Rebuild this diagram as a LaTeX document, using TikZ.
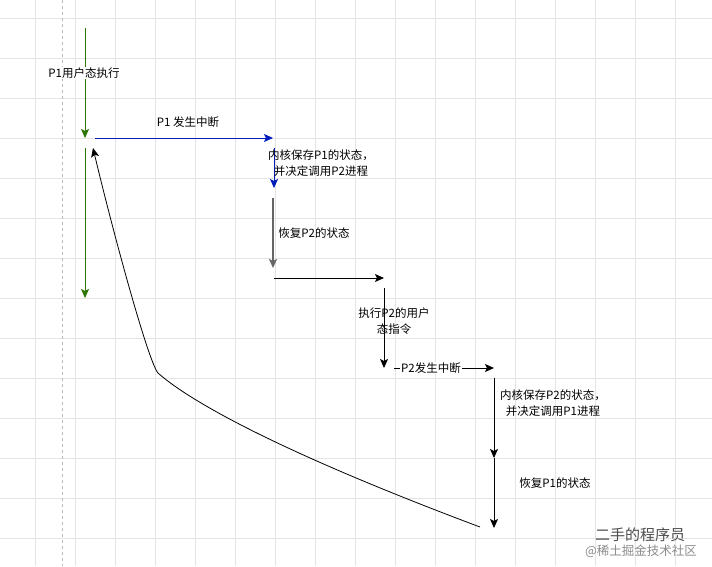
\documentclass[tikz,border=0pt]{standalone}
\usepackage{fontspec}
\newfontfamily\cjk{Noto Sans CJK SC}
\usepackage{tikz}
\usetikzlibrary{positioning,arrows.meta}
\definecolor{ugreen}{HTML}{2D7600}
\definecolor{kblue}{HTML}{001DBC}
\definecolor{gridline}{HTML}{E4E4E4}
\tikzset{flow/.style={-{Stealth[length=9pt,width=8pt,inset=2pt]}, line width=0.9pt},
         note/.style={font=\cjk\fontsize{11.5}{15.5}\selectfont, align=center, inner sep=1pt},}

\begin{document}
\begin{tikzpicture}[x=1pt, y=-1pt]
        \useasboundingbox (0,0) rectangle (712,566);
        \fill[white] (0,0) rectangle (712,566);
        % Grid
        \foreach \gx in {35,75,...,715} \draw[gridline, line width=0.6pt] (\gx,0) -- (\gx,566);
        \foreach \gy in {18,58,...,578} \draw[gridline, line width=0.6pt] (0,\gy) -- (712,\gy);
        \draw[gray!55, dashed, line width=0.6pt] (62,0) -- (62,566);
        % Points
        \coordinate (u1a) at (85,28);   \coordinate (u1b) at (85,138);
        \coordinate (u2a) at (85,148);  \coordinate (u2b) at (85,298);
        \coordinate (i1a) at (95,138);  \coordinate (i1b) at (273,138);
        \coordinate (s1a) at (274,148); \coordinate (s1b) at (274,188);
        \coordinate (r2a) at (273,198); \coordinate (r2b) at (273,268);
        \coordinate (j2a) at (274,278); \coordinate (j2b) at (384,278);
        \coordinate (x2a) at (384,288); \coordinate (x2b) at (384,368);
        \coordinate (i2a) at (394,368); \coordinate (i2b) at (494,368);
        \coordinate (s2a) at (494,378); \coordinate (s2b) at (494,458);
        \coordinate (r1b) at (494,528);
        \coordinate (back) at (480,527); \coordinate (bend) at (158,373);
        \coordinate (p1) at (93,148);
        % Paths
        \draw[flow, ugreen] (u1a) -- (u1b);
        \draw[flow, ugreen] (u2a) -- (u2b);
        \draw[flow, kblue] (i1a) -- (i1b);
        \draw[flow, kblue] (s1a) -- (s1b);
        \draw[flow, black!60, line width=2pt] (r2a) -- (r2b);
        \draw[flow] (j2a) -- (j2b);
        \draw[flow] (x2a) -- (x2b);
        \draw[flow] (i2a) -- node[pos=0.37, note, fill=white] (int2) {P2发生中断} (i2b);
        \draw[flow] (s2a) -- (s2b);
        \draw[flow] (s2b) -- (r1b);
        \draw[flow, line width=0.8pt] (back) .. controls (240,437) and (176,389) .. (bend)
              .. controls (148,361) and (113,232) .. (p1);
        % Nodes
        \node[note, fill=white] (user1) at (84,73) {P1用户态执行};
        \node[note] (int1) at (188,122) {P1 发生中断};
        \node[note] (save1) at (321,163) {内核保存P1的状态，\\并决定调用P2进程};
        \node[note] (rest2) at (314,233) {恢复P2的状态};
        \node[note] (user2) at (394,321) {执行P2的用户\\态指令};
        \node[note] (save2) at (553,403) {内核保存P2的状态，\\并决定调用P1进程};
        \node[note] (rest1) at (555,483) {恢复P1的状态};
        \node[font=\cjk\fontsize{15}{17}\selectfont, text=black!70] (wm1) at (640,535) {二手的程序员};
        \node[font=\cjk\fontsize{12.5}{14}\selectfont, text=black!45] (wm2) at (641,551) {@稀土掘金技术社区};
    \end{tikzpicture}
\end{document}
